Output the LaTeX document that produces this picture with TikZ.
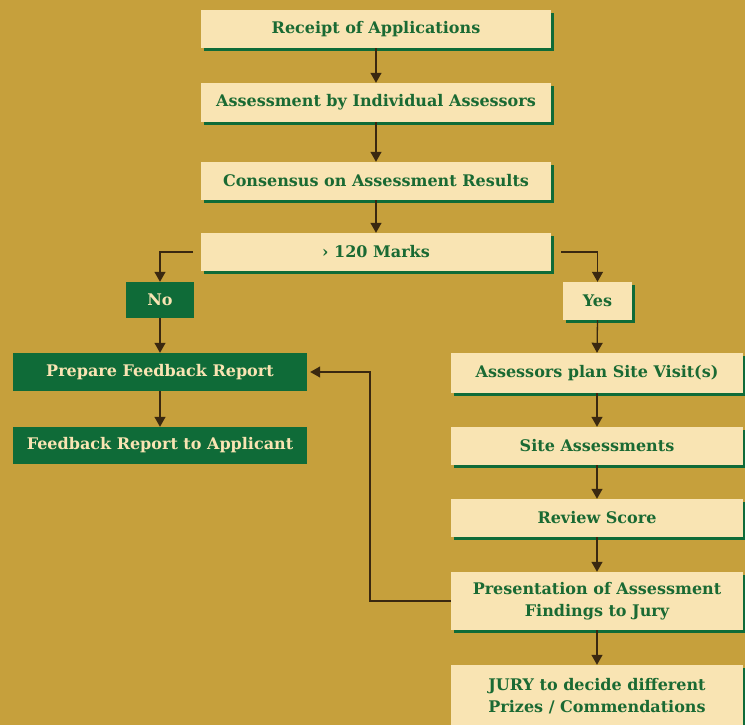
\documentclass[tikz,border=0pt]{standalone}
\usepackage{fontspec}
\setmainfont{DejaVu Serif}
\usetikzlibrary{arrows.meta,positioning}
\definecolor{bg}{HTML}{C6A03C}
\definecolor{lightbox}{HTML}{F9E4B3}
\definecolor{darkgreen}{HTML}{0F6B38}
\definecolor{txtgreen}{HTML}{1A6A33}
\definecolor{arrowc}{HTML}{3A2810}
\tikzset{
  lbox/.style={fill=lightbox, text=txtgreen, font=\bfseries\fontsize{16}{22}\selectfont,
    align=center, inner sep=0pt},
  dbox/.style={fill=darkgreen, text=lightbox, font=\bfseries\fontsize{16}{22}\selectfont,
    align=center, inner sep=0pt},
  conn/.style={draw=arrowc, line width=1.3pt, -{Triangle[width=11pt,length=10pt]}},
}
\begin{document}
\begin{tikzpicture}[x=1pt,y=-1pt]
\fill[bg] (0,0) rectangle (745,725);
\useasboundingbox (0,0) rectangle (745,725);
% shadows for light boxes
\foreach \xa/\ya/\xb/\yb in {201/10/551/48, 201/83/551/122, 201/162/551/200, 201/233/551/271,
  563/282/632/320, 451/353/743/393, 451/427/743/465, 451/499/743/537, 451/572/743/630, 451/665/743/728}{
  \fill[darkgreen] (\xa+3,\ya+3) rectangle (\xb+3,\yb+3);
}
\node[lbox, minimum width=350pt, minimum height=38pt] (a) at (376,29) {Receipt of Applications};
\node[lbox, minimum width=350pt, minimum height=39pt] (b) at (376,102.5) {Assessment by Individual Assessors};
\node[lbox, minimum width=350pt, minimum height=38pt] (c) at (376,181) {Consensus on Assessment Results};
\node[lbox, minimum width=350pt, minimum height=38pt] (d) at (376,252) {› 120 Marks};
\node[dbox, minimum width=68pt, minimum height=36pt] (no) at (160,300) {No};
\node[lbox, minimum width=69pt, minimum height=38pt] (yes) at (597.5,301) {Yes};
\node[dbox, minimum width=294pt, minimum height=38pt] (p) at (160,372) {Prepare Feedback Report};
\node[dbox, minimum width=294pt, minimum height=37pt] (f) at (160,445.5) {Feedback Report to Applicant};
\node[lbox, minimum width=292pt, minimum height=40pt] (s1) at (597,373) {Assessors plan Site Visit(s)};
\node[lbox, minimum width=292pt, minimum height=38pt] (s2) at (597,446) {Site Assessments};
\node[lbox, minimum width=292pt, minimum height=38pt] (s3) at (597,518) {Review Score};
\node[lbox, minimum width=292pt, minimum height=58pt] (s4) at (597,601) {Presentation of Assessment\\Findings to Jury};
\node[lbox, minimum width=292pt, minimum height=63pt] (s5) at (597,696.5) {JURY to decide different\\Prizes / Commendations};
\coordinate (dl) at (193,252);
\coordinate (dr) at (561,252);
\coordinate (fb) at (370,601);
\draw[conn] (a.south) -- (b.north);
\draw[conn] (b.south) -- (c.north);
\draw[conn] (c.south) -- (d.north);
\draw[conn] (dl) -| (no.north);
\draw[conn] (dr) -| (yes.north);
\draw[conn] (no.south) -- (p.north);
\draw[conn] (p.south) -- (f.north);
\draw[conn] (yes.south) -- (s1.north);
\draw[conn] (s1.south) -- (s2.north);
\draw[conn] (s2.south) -- (s3.north);
\draw[conn] (s3.south) -- (s4.north);
\draw[conn] (s4.south) -- (s5.north);
\draw[conn] (s4.west) -- (fb) |- ([xshift=3pt]p.east);
\end{tikzpicture}
\end{document}
